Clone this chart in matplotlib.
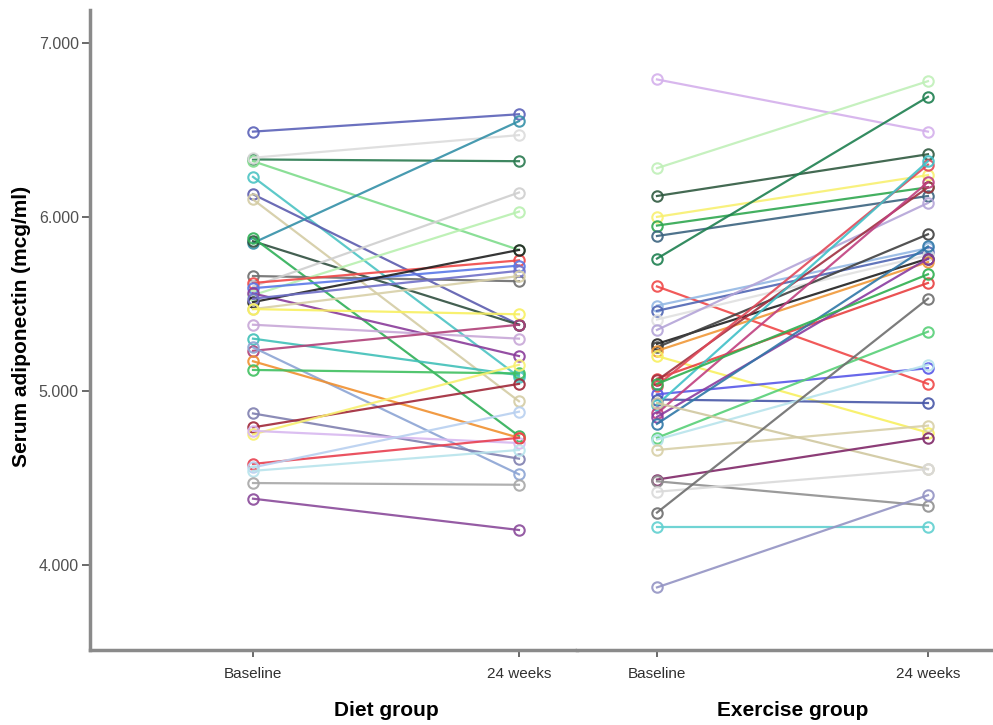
import matplotlib
matplotlib.use('Agg')
import matplotlib.pyplot as plt
import matplotlib.transforms as mtransforms

# Paired serum adiponectin values (baseline -> 24 weeks)
timepoints = ['Baseline', '24 weeks']

diet_baseline = [6.49, 6.33, 6.32, 6.34, 6.23, 6.13, 6.10, 5.85, 5.86, 5.88,
                 5.66, 5.60, 5.55, 5.62, 5.59, 5.56, 5.51, 5.53, 5.47, 5.47,
                 5.38, 5.30, 5.23, 5.25, 5.17, 5.12, 4.87, 4.79, 4.75, 4.77,
                 4.58, 4.56, 4.54, 4.47, 4.38]
diet_week24 = [6.59, 6.32, 5.81, 6.47, 5.08, 5.38, 4.94, 6.55, 5.38, 4.74,
               5.63, 6.14, 6.03, 5.75, 5.72, 5.20, 5.81, 5.69, 5.66, 5.44,
               5.30, 5.09, 5.38, 4.52, 4.73, 5.10, 4.61, 5.04, 5.15, 4.70,
               4.73, 4.88, 4.66, 4.46, 4.20]

exercise_baseline = [6.79, 6.28, 6.12, 6.00, 5.95, 5.89, 5.76, 5.60, 5.49, 5.46,
                     5.41, 5.35, 5.27, 5.25, 5.23, 5.20, 5.07, 5.06, 5.03, 4.98,
                     4.95, 4.92, 4.87, 4.85, 4.81, 4.73, 4.72, 5.04, 4.66, 4.93,
                     4.49, 4.48, 4.42, 4.30, 4.22, 3.87]
exercise_week24 = [6.49, 6.78, 6.36, 6.24, 6.17, 6.12, 6.69, 5.04, 5.82, 5.80,
                   5.78, 6.08, 5.76, 5.90, 5.74, 4.76, 5.62, 6.17, 6.30, 5.13,
                   4.93, 6.32, 6.20, 5.76, 5.83, 5.34, 5.15, 5.67, 4.80, 4.55,
                   4.73, 4.34, 4.55, 5.53, 4.22, 4.40]

diet_palette = ['#5b62b8', '#2a7a50', '#7fdc8c', '#dcdcdc', '#4cc4c4', '#5c5cae',
                '#d4cca4', '#3490a8', '#2f4f3f', '#30b058', '#6e6e6e', '#cfcfcf',
                '#b8f0b0', '#f04848', '#5a78e8', '#8a3c9a', '#202020', '#7070c8',
                '#d8d0a8', '#f8f060', '#c8a8d8', '#40c0b8', '#b04078', '#8ca4d4',
                '#f09030', '#40c060', '#8080b0', '#a02838', '#f8f070', '#d8b8f0',
                '#e84050', '#b8d0f0', '#b8e4ec', '#a8a8a8', '#8a4a9a']
exercise_palette = ['#d4b0ec', '#c0f0b8', '#2f5a40', '#f8f070', '#30a850', '#3c6480',
                    '#1e8050', '#f04848', '#94b8e4', '#5066b4', '#e0e0e0', '#b4a4d8',
                    '#202020', '#404040', '#f09838', '#f8f060', '#e84040', '#a03040',
                    '#e04858', '#5858e8', '#4858a8', '#40c0c8', '#c04080', '#8a3ca0',
                    '#3078a8', '#58d078', '#b8e4ec', '#30b050', '#d8d0a8', '#d0c8a0',
                    '#802868', '#909090', '#dadada', '#6e6e6e', '#60d0d0', '#9494c4']

groups = ['Diet group', 'Exercise group']

plt.rcParams['font.family'] = ['Liberation Sans', 'DejaVu Sans']

fig = plt.figure(figsize=(9.93, 7.25), dpi=100)
ax1 = fig.add_axes([0.0906, 0.1034, 0.4904, 0.883])
ax2 = fig.add_axes([0.5811, 0.1034, 0.4189, 0.883])

axis_grey = '#8a8a8a'


def draw_panel(ax, base, week, colors, label, xlim):
    for b, w, c in zip(base, week, colors):
        ax.plot([0, 1], [b, w], color=c, lw=1.6, marker='o', ms=7.5,
                mfc='none', mec=c, mew=1.5, alpha=0.9)
    ax.set_xlim(*xlim)
    ax.set_ylim(3.51, 7.19)
    ax.set_xticks([0, 1])
    ax.set_xticklabels(timepoints, fontsize=11, color='#303030')
    ax.tick_params(axis='x', length=5, width=1.2, color='#505050', pad=7)
    for s in ['top', 'right']:
        ax.spines[s].set_visible(False)
    ax.spines['bottom'].set_color(axis_grey)
    ax.spines['bottom'].set_linewidth(2.5)
    trans = mtransforms.blended_transform_factory(ax.transData, ax.transAxes)
    ax.text(0.5, -0.094, label, transform=trans, ha='center', va='center',
            fontsize=15, fontweight='bold')


draw_panel(ax1, diet_baseline, diet_week24, diet_palette, groups[0], (-0.613, 1.218))
draw_panel(ax2, exercise_baseline, exercise_week24, exercise_palette, groups[1], (-0.295, 1.24))

ax1.spines['left'].set_color(axis_grey)
ax1.spines['left'].set_linewidth(2.5)
ax1.set_yticks([4, 5, 6, 7])
ax1.set_yticklabels(['4.000', '5.000', '6.000', '7.000'], fontsize=11.5, color='#505050')
ax1.tick_params(axis='y', length=6, width=1.2, color='#505050', pad=2)

ax2.spines['left'].set_visible(False)
ax2.set_yticks([])

fig.text(0.022, 0.55, 'Serum adiponectin (mcg/ml)', rotation=90, ha='center',
         va='center', fontsize=15, fontweight='bold')

fig.savefig('out.png', dpi=100)
